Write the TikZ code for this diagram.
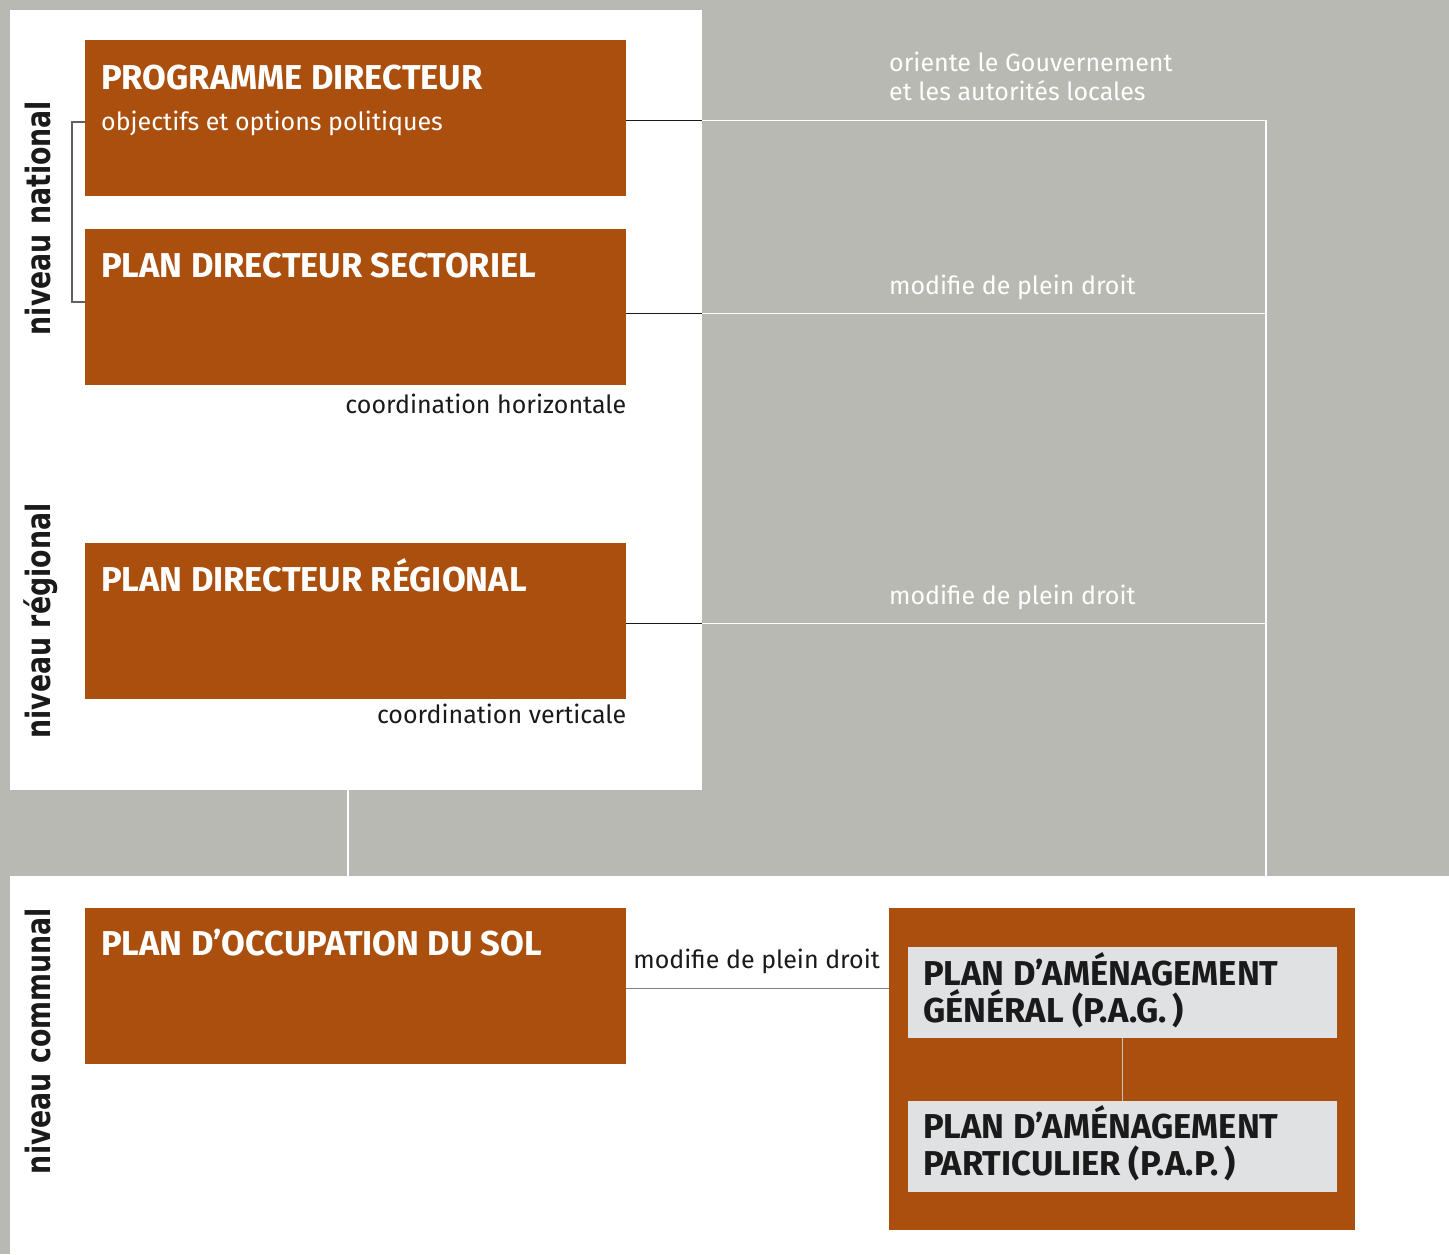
\documentclass[tikz,border=0pt]{standalone}
\usepackage{fontspec}
\setmainfont{Fira Sans}
\newfontfamily\levelfont[FakeStretch=0.8]{DejaVu Sans}
\usetikzlibrary{positioning}

\definecolor{rust}{RGB}{171,79,15}
\definecolor{slate}{RGB}{184,185,178}
\definecolor{pale}{RGB}{224,225,227}
\definecolor{ink}{RGB}{26,26,26}

\tikzset{
  plan/.style={fill=rust, minimum width=541pt, minimum height=156pt, anchor=north west, inner sep=0pt},
  subplan/.style={fill=pale, minimum width=429pt, minimum height=91pt, anchor=north west, inner sep=0pt},
  title/.style={anchor=base west, inner sep=0pt, text=white, font=\bfseries\fontsize{34.5}{37}\selectfont},
  subtitle/.style={title, text=ink, align=left},
  note/.style={inner sep=0pt, font=\fontsize{25}{29}\selectfont},
  level/.style={rotate=90, anchor=base, inner sep=0pt, text=ink, font=\levelfont\bfseries\fontsize{33.5}{38}\selectfont},
  link/.style={line width=1.2pt},
}

\begin{document}
\begin{tikzpicture}[x=1pt, y=-1pt]
% backdrop and white panels
\fill[slate] (0,0) rectangle (1449,1254);
\fill[white] (10,10) rectangle (702,790);
\fill[white] (10,876) rectangle (1449,1254);
\coordinate (edge) at (702,790);
\coordinate (rail) at (1266,876);

% national and regional plans
\node[plan] (pd) at (85,40) {};
\node[plan] (pds) at (85,229) {};
\node[plan] (pdr) at (85,543) {};
% communal plans
\node[plan] (pos) at (85,908) {};
\node[plan, minimum width=466pt, minimum height=322pt] (pagpap) at (889,908) {};
\node[subplan] (pag) at (908,947) {};
\node[subplan] (pap) at (908,1101) {};

\node[title] (pd-t) at ([shift={(16,49)}]pd.north west) {PROGRAMME DIRECTEUR};
\node[note, text=white, anchor=base west] (pd-s) at ([shift={(16,90)}]pd.north west) {objectifs et options politiques};
\node[title] (pds-t) at ([shift={(16,48)}]pds.north west) {PLAN DIRECTEUR SECTORIEL};
\node[title] (pdr-t) at ([shift={(16,48)}]pdr.north west) {PLAN DIRECTEUR RÉGIONAL};
\node[title] (pos-t) at ([shift={(16,47)}]pos.north west) {PLAN D’OCCUPATION DU SOL};
\node[subtitle] (pag-t) at ([shift={(15,75)}]pag.north west) {PLAN D’AMÉNAGEMENT\\GÉNÉRAL (P.A.G.\,)};
\node[subtitle] (pap-t) at ([shift={(15,74)}]pap.north west) {PLAN D’AMÉNAGEMENT\\PARTICULIER (P.A.P.\,)};

\node[note, text=ink, anchor=base east] (horiz) at ([shift={(0,28)}]pds.south east) {coordination horizontale};
\node[note, text=ink, anchor=base east] (vert) at ([shift={(0,24)}]pdr.south east) {coordination verticale};

% levels
\node[level] (nat) at (50,218) {niveau national};
\node[level] (reg) at (50,621) {niveau régional};
\node[level] (com) at (50,1041) {niveau communal};
\draw[link, ink!70] ([shift={(0,82)}]pd.north west) -- ++(-13,0) |- ([shift={(0,73)}]pds.north west);

% links to the communal level
\draw[link, ink] ([shift={(0,2)}]pd.east) coordinate (l1) -- (l1 -| edge);
\draw[link, white] (l1 -| edge) -- (l1 -| rail) -- (rail);
\draw[link, ink] ([shift={(0,6)}]pds.east) coordinate (l2) -- (l2 -| edge);
\draw[link, white] (l2 -| edge) -- (l2 -| rail);
\draw[link, ink] ([shift={(0,2)}]pdr.east) coordinate (l3) -- (l3 -| edge);
\draw[link, white] (l3 -| edge) -- (l3 -| rail);
\draw[link, white] (348,790) -- (348,876);
\node[note, text=white, anchor=base west, align=left] (orient) at (889,100) {oriente le Gouvernement\\et les autorités locales};
\node[note, text=white, anchor=base west] (mod1) at (889,294) {modifie de plein droit};
\node[note, text=white, anchor=base west] (mod2) at (889,604) {modifie de plein droit};

\draw[link, ink!55] ([shift={(0,2)}]pos.east) coordinate (l4) -- (l4 -| pagpap.west);
\node[note, text=ink, anchor=base east] (mod3) at (880,968) {modifie de plein droit};
\draw[link, pale!85!ink] (pag.south) -- (pap.north);
\end{tikzpicture}
\end{document}
